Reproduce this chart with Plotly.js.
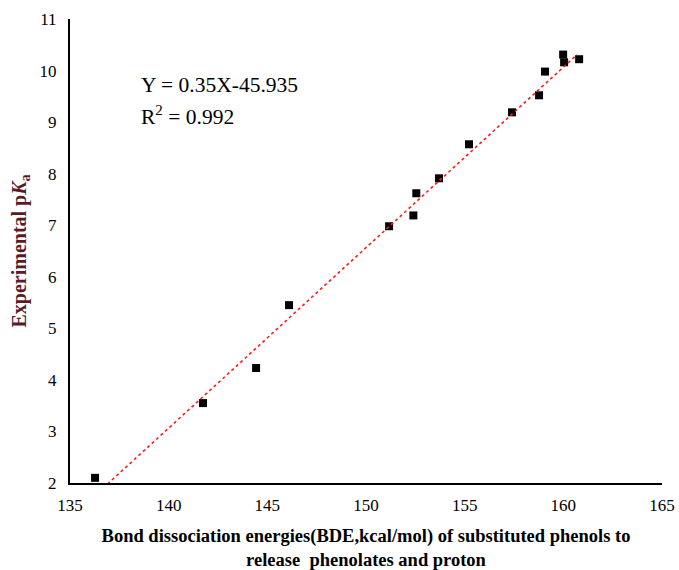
<!DOCTYPE html>
<html>
<head>
<meta charset="utf-8">
<script src="https://cdn.plot.ly/plotly-3.0.1.min.js"></script>
<style>html,body{margin:0;padding:0;background:#fff;}#chart{width:679px;height:570px;}</style>
</head>
<body>
<div id="chart"></div>
<script>
// Bond dissociation energies (kcal/mol)
const bde = [136.27, 141.74, 144.43, 146.1, 151.17, 152.4, 152.55, 153.7, 155.22, 157.4, 158.77, 159.07, 159.99, 160.04, 160.8];
// Experimental pKa
const pka = [2.10, 3.55, 4.23, 5.45, 6.98, 7.19, 7.62, 7.91, 8.57, 9.19, 9.52, 9.98, 10.31, 10.16, 10.22];
// Linear trendline endpoints (Y = 0.35X - 45.935)
const trendX = [136.9, 160.7];
const trendY = [1.98, 10.31];
const xTicks = [135, 140, 145, 150, 155, 160, 165];
const yTicks = [2, 3, 4, 5, 6, 7, 8, 9, 10, 11];

const serif = "Liberation Serif";

const traces = [
  {
    x: bde, y: pka, type: 'scatter', mode: 'markers',
    marker: {symbol: 'square', size: 8, color: '#000000'},
    showlegend: false, hoverinfo: 'x+y'
  },
  {
    x: trendX, y: trendY, type: 'scatter', mode: 'lines',
    line: {color: '#ff1a1a', width: 1.6, dash: 'dot'},
    showlegend: false, hoverinfo: 'skip'
  }
];

const layout = {
  width: 679, height: 570,
  margin: {l: 70, r: 17, t: 19, b: 87},
  paper_bgcolor: '#ffffff', plot_bgcolor: '#ffffff',
  font: {family: serif, color: '#000000'},
  xaxis: {
    range: [135, 165], tickvals: xTicks, ticktext: xTicks.map(String),
    showgrid: false, zeroline: false,
    showline: true, linecolor: '#000000', linewidth: 2,
    ticks: 'outside', ticklen: 6, tickcolor: 'rgba(0,0,0,0)',
    tickfont: {family: serif, size: 17, color: '#000000'},
    title: {
      text: '<b>Bond dissociation energies(BDE,kcal/mol) of substituted phenols to<br>release  phenolates and proton</b>',
      font: {family: serif, size: 18.5, color: '#000000'},
      standoff: 21
    },
    automargin: false, fixedrange: true
  },
  yaxis: {
    range: [2, 11], tickvals: yTicks, ticktext: yTicks.map(String),
    showgrid: false, zeroline: false,
    showline: true, linecolor: '#000000', linewidth: 2,
    ticks: 'outside', ticklen: 8, tickcolor: 'rgba(0,0,0,0)',
    tickfont: {family: serif, size: 17, color: '#000000'},
    title: {
      text: '<b>Experimental p<i>K</i><sub>a</sub></b>',
      font: {family: serif, size: 20, color: '#5a1a28'},
      standoff: 8
    },
    automargin: false, fixedrange: true
  },
  annotations: [
    {x: 138.5, y: 9.72, xref: 'x', yref: 'y', xanchor: 'left', yanchor: 'middle',
     text: 'Y = 0.35X-45.935', showarrow: false,
     font: {family: serif, size: 21.5, color: '#000000'}},
    {x: 138.5, y: 9.12, xref: 'x', yref: 'y', xanchor: 'left', yanchor: 'middle',
     text: 'R<sup>2</sup> = 0.992', showarrow: false,
     font: {family: serif, size: 21.5, color: '#000000'}}
  ]
};

Plotly.newPlot('chart', traces, layout, {displayModeBar: false, staticPlot: true});
</script>
</body>
</html>
